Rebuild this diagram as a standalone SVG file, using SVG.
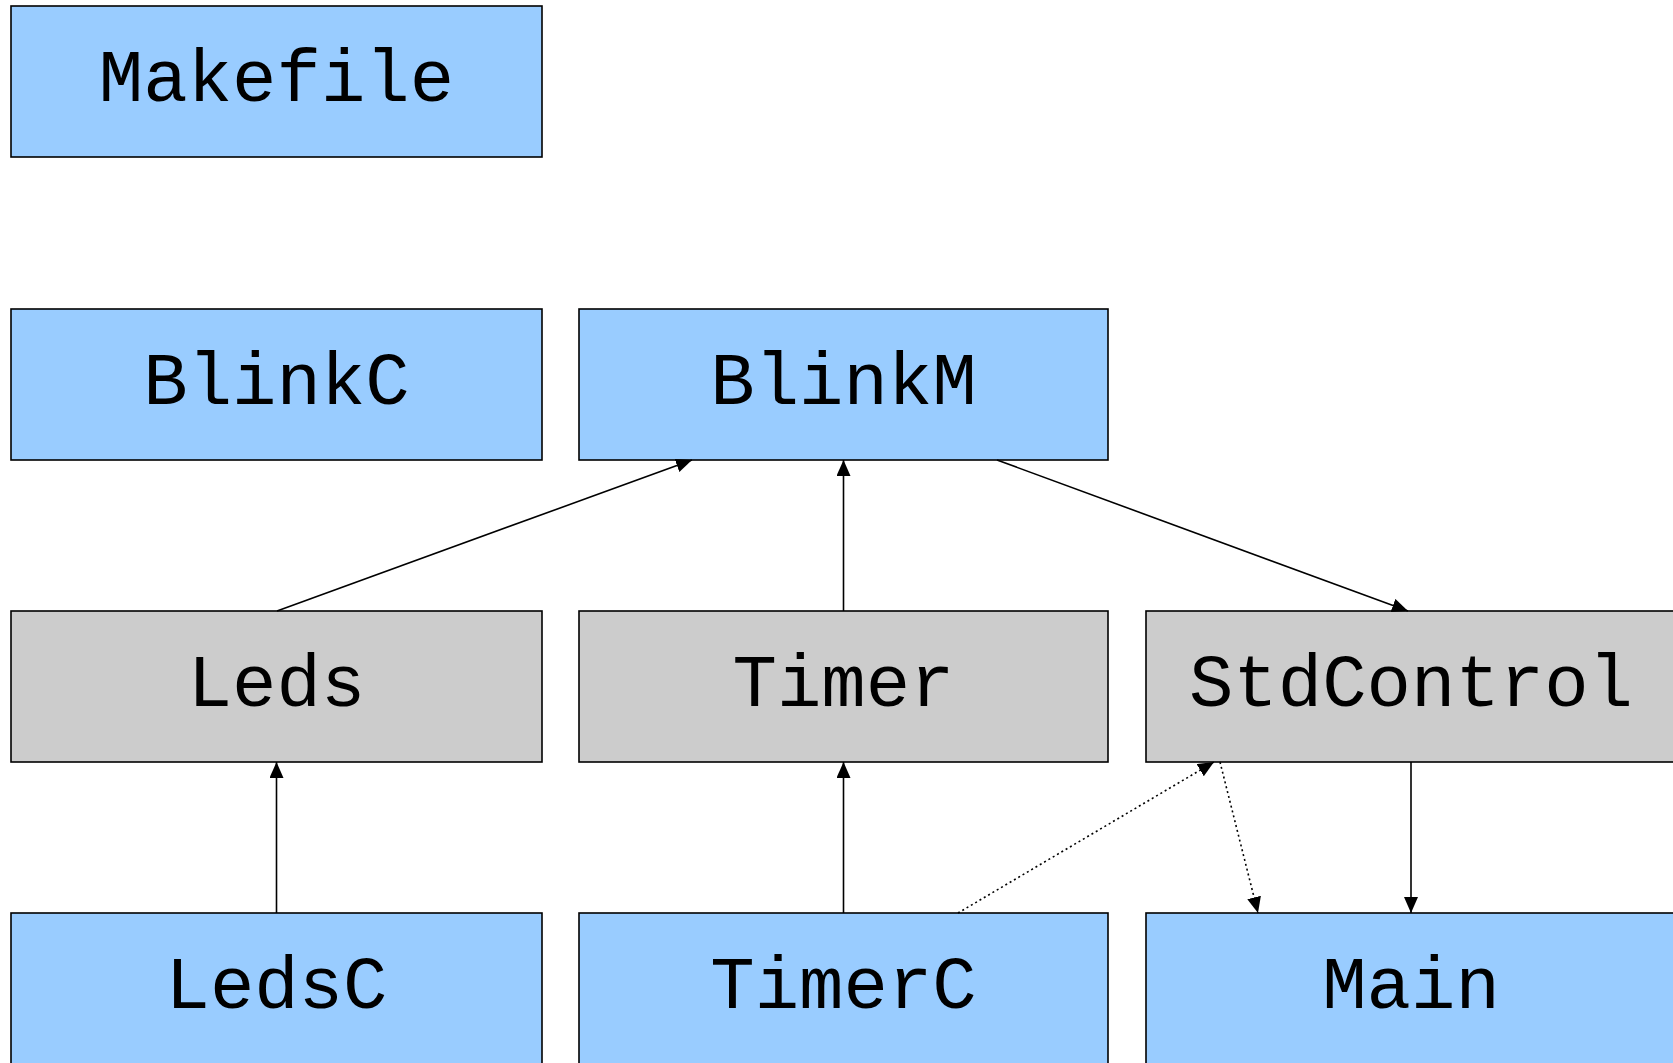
<svg xmlns="http://www.w3.org/2000/svg" width="1673" height="1063" viewBox="0 0 1673 1063">
<style>
.box{stroke:#000;stroke-width:1.6}
.blue{fill:#99ccff}
.gray{fill:#cccccc}
.lbl{font-family:"Liberation Mono","Courier New",monospace;font-size:74px;fill:#000;text-anchor:middle}
.edge{stroke:#000;stroke-width:1.6;fill:none}
.dot{stroke-dasharray:2,3}
</style>
<defs>
<marker id="ah" markerUnits="userSpaceOnUse" markerWidth="18" markerHeight="16" refX="16" refY="7" orient="auto">
<path d="M0,0 L16,7 L0,14 Z" fill="#000"/>
</marker>
</defs>
<rect width="1673" height="1063" fill="#fff"/>
<g id="Makefile"><rect class="box blue" x="11" y="6" width="531" height="151"/><text class="lbl" x="276.5" y="101">Makefile</text></g>
<g id="BlinkC"><rect class="box blue" x="11" y="309" width="531" height="151"/><text class="lbl" x="276.5" y="404">BlinkC</text></g>
<g id="BlinkM"><rect class="box blue" x="579" y="309" width="529" height="151"/><text class="lbl" x="843.5" y="404">BlinkM</text></g>
<g id="Leds"><rect class="box gray" x="11" y="611" width="531" height="151"/><text class="lbl" x="276.5" y="706">Leds</text></g>
<g id="Timer"><rect class="box gray" x="579" y="611" width="529" height="151"/><text class="lbl" x="843.5" y="706">Timer</text></g>
<g id="StdControl"><rect class="box gray" x="1146" y="611" width="530" height="151"/><text class="lbl" x="1411" y="706">StdControl</text></g>
<g id="LedsC"><rect class="box blue" x="11" y="913" width="531" height="151"/><text class="lbl" x="276.5" y="1008">LedsC</text></g>
<g id="TimerC"><rect class="box blue" x="579" y="913" width="529" height="151"/><text class="lbl" x="843.5" y="1008">TimerC</text></g>
<g id="Main"><rect class="box blue" x="1146" y="913" width="530" height="151"/><text class="lbl" x="1411" y="1008">Main</text></g>
<g id="connectors">
<line class="edge" x1="277" y1="611" x2="692" y2="460" marker-end="url(#ah)"/>
<line class="edge" x1="843.5" y1="611" x2="843.5" y2="460" marker-end="url(#ah)"/>
<line class="edge" x1="997" y1="460" x2="1408" y2="611" marker-end="url(#ah)"/>
<line class="edge" x1="276.5" y1="913" x2="276.5" y2="762" marker-end="url(#ah)"/>
<line class="edge" x1="843.5" y1="913" x2="843.5" y2="762" marker-end="url(#ah)"/>
<line class="edge dot" x1="958" y1="913" x2="1214" y2="762" marker-end="url(#ah)"/>
<line class="edge dot" x1="1220" y1="762" x2="1258" y2="913" marker-end="url(#ah)"/>
<line class="edge" x1="1411" y1="762" x2="1411" y2="913" marker-end="url(#ah)"/>
</g>
</svg>
